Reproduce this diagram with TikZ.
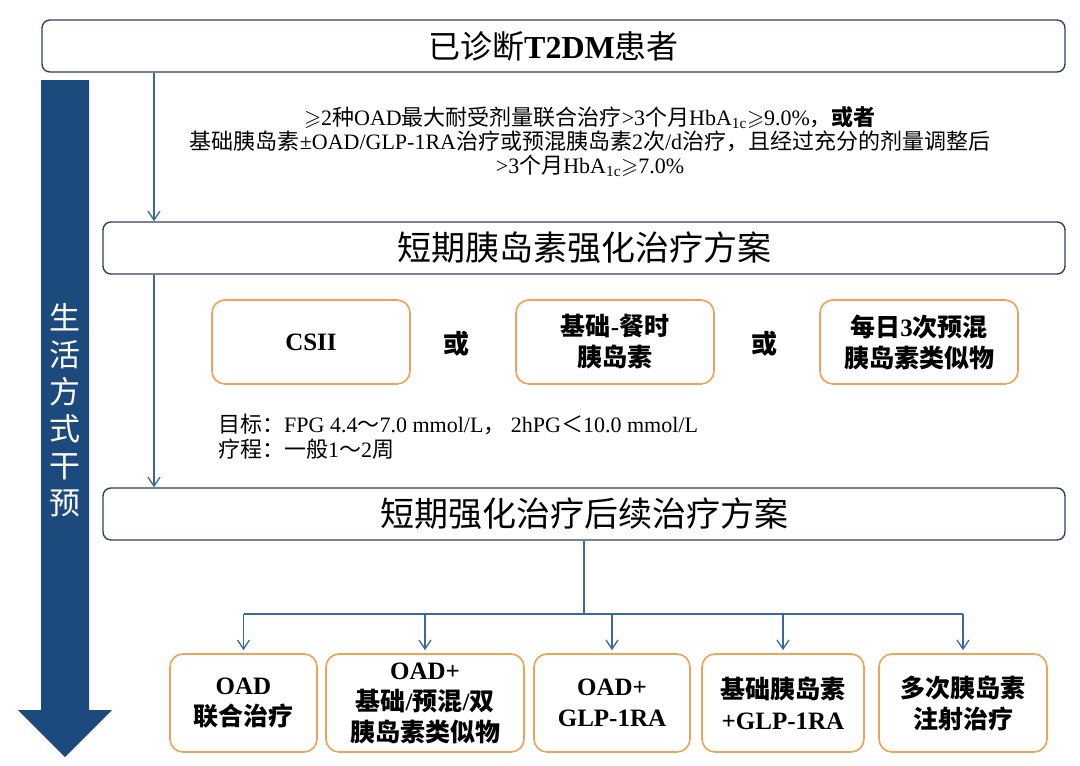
\documentclass[tikz,border=0pt]{standalone}
\usepackage{fontspec}
\usepackage{amssymb}
\setmainfont{Liberation Serif}
\newfontfamily\cjk{Noto Sans CJK SC}
\usetikzlibrary{arrows.meta}
\newcommand\zh[1]{{\cjk #1}}
\definecolor{navy}{RGB}{28,74,124}
\definecolor{boxline}{RGB}{44,66,104}
\definecolor{orng}{RGB}{240,162,86}
\definecolor{connc}{RGB}{60,104,160}
\begin{document}
\begin{tikzpicture}[x=1pt,y=-1pt,
  mainbox/.style={draw=boxline, line width=1.4pt, rounded corners=8pt, fill=white, inner sep=0pt},
  obox/.style={draw=orng, line width=1.6pt, rounded corners=13pt, fill=white, inner sep=0pt, align=center, font=\bfseries\fontsize{25}{31}\selectfont},
  ortext/.style={font=\bfseries\fontsize{26}{30}\selectfont, inner sep=0pt},
  conn/.style={draw=connc, line width=1.3pt, -{Straight Barb[length=9pt,width=12pt]}},
  plainline/.style={draw=connc, line width=1.3pt}]
\useasboundingbox (0,0) rectangle (1080,766);
\fill[white] (0,0) rectangle (1080,766);

% lifestyle arrow
\fill[navy] (41,80) -- (89,80) -- (89,710) -- (112,710) -- (65,757) -- (18,710) -- (41,710) -- cycle;
\node[text=white, align=center, inner sep=0pt, font=\cjk\fontsize{31}{37}\selectfont] (life) at (65,410) {生\\活\\方\\式\\干\\预};

% main boxes
\node[mainbox, minimum width=1023, minimum height=52, font=\fontsize{32}{38}\selectfont] (top) at (553.5,46) {\zh{已诊断}\textbf{T2DM}\zh{患者}};
\node[mainbox, minimum width=962, minimum height=52, font=\fontsize{34}{40}\selectfont] (plan) at (584,248) {\zh{短期胰岛素强化治疗方案}};
\node[mainbox, minimum width=962, minimum height=52, font=\fontsize{34}{40}\selectfont] (follow) at (584,514) {\zh{短期强化治疗后续治疗方案}};

% condition text
\node[align=center, inner sep=0pt, font=\fontsize{22}{24}\selectfont] (cond) at (590,142) {%
$\geqslant$2\zh{种}OAD\zh{最大耐受剂量联合治疗}>3\zh{个月}HbA\textsubscript{1c}$\geqslant$9.0\%\zh{，}{\cjk\bfseries 或者}\\
\zh{基础胰岛素}±OAD/GLP-1RA\zh{治疗或预混胰岛素}2\zh{次}/d\zh{治疗，且经过充分的剂量调整后}\\
>3\zh{个月}HbA\textsubscript{1c}$\geqslant$7.0\%};

% intensive options
\node[obox, minimum width=198, minimum height=84] (csii) at (311,342) {CSII};
\node[obox, minimum width=198, minimum height=84] (bb) at (615,342) {\zh{基础}-\zh{餐时}\\\zh{胰岛素}};
\node[obox, minimum width=198, minimum height=84] (pm) at (919,342) {\zh{每日}3\zh{次预混}\\\zh{胰岛素类似物}};
\node[ortext] (or1) at (456,344) {\zh{或}};
\node[ortext] (or2) at (764,344) {\zh{或}};

% goal text
\node[anchor=west, align=left, inner sep=0pt, font=\fontsize{22}{25}\selectfont] (goal) at (218,437) {%
\zh{目标：}FPG 4.4\zh{～}7.0 mmol/L\zh{，} 2hPG\zh{＜}10.0 mmol/L\\
\zh{疗程：一般}1\zh{～}2\zh{周}};

% follow-up options
\node[obox, minimum width=147, minimum height=98] (b1) at (243.5,703) {OAD\\\zh{联合治疗}};
\node[obox, minimum width=198, minimum height=98] (b2) at (425,703) {OAD+\\\zh{基础}/\zh{预混}/\zh{双}\\\zh{胰岛素类似物}};
\node[obox, minimum width=156, minimum height=98] (b3) at (612,703) {OAD+\\GLP-1RA};
\node[obox, minimum width=162, minimum height=98] (b4) at (783,703) {\zh{基础胰岛素}\\+GLP-1RA};
\node[obox, minimum width=168, minimum height=98] (b5) at (963,703) {\zh{多次胰岛素}\\\zh{注射治疗}};

% connectors
\coordinate (lx) at (154,0);
\coordinate (hy) at (0,614);
\draw[conn] (top.south -| lx) -- (plan.north -| lx);
\draw[conn] (plan.south -| lx) -- (follow.north -| lx);
\draw[plainline] (follow.south) -- (follow.south |- hy);
\draw[plainline] (b1.north |- hy) -- (b5.north |- hy);
\foreach \b in {b1,b2,b3,b4,b5}{
  \draw[conn, shorten >=3pt] (\b.north |- hy) -- (\b.north);
}
\end{tikzpicture}
\end{document}
